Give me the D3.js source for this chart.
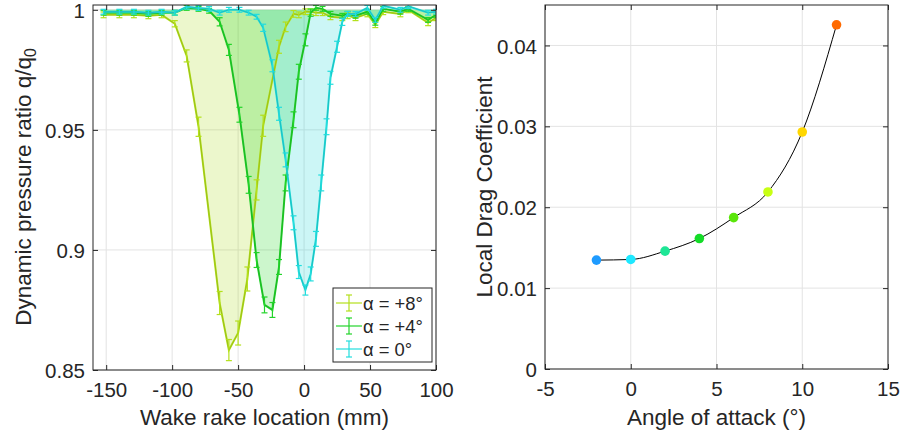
<!DOCTYPE html>
<html>
<head>
<meta charset="utf-8">
<script src="https://cdn.jsdelivr.net/npm/d3@7"></script>
<style>
  body { margin: 0; background: #fff; }
  svg text { font-family: "Liberation Sans", Arial, sans-serif; fill: #262626; }
</style>
</head>
<body>
<svg id="chart" width="901" height="438"></svg>
<script>
// wake rake survey, q/q0 for three angles of attack
const xPlus8 = [-152, -140, -129, -118, -108, -98, -89, -80, -64, -57, -50, -43, -36, -31, -19, -14, -8, -4, 1, 5, 9, 14, 20, 29, 33, 39, 48, 54, 60, 73, 79, 94, 100];
const qPlus8 = [0.9979, 0.9979, 0.9979, 0.9975, 0.9979, 0.9942, 0.9808, 0.9513, 0.8779, 0.8583, 0.8654, 0.8879, 0.9250, 0.9517, 0.9846, 0.9929, 0.9983, 0.9979, 0.9992, 0.9992, 0.9988, 0.9988, 0.9971, 0.9967, 0.9975, 0.9967, 0.9983, 0.9938, 0.9992, 0.9983, 1.0000, 0.9946, 0.9967];
const ePlus8 = [0.0012, 0.0012, 0.0012, 0.0012, 0.0012, 0.0013, 0.0025, 0.0040, 0.0048, 0.0044, 0.0050, 0.0050, 0.0042, 0.0044, 0.0027, 0.0020, 0.0014, 0.0012, 0.0012, 0.0012, 0.0012, 0.0012, 0.0012, 0.0012, 0.0012, 0.0012, 0.0012, 0.0012, 0.0012, 0.0012, 0.0012, 0.0012, 0.0012];

const xPlus4 = [-152, -140, -129, -118, -108, -98, -89, -80, -72, -64, -57, -49, -42, -36, -30, -24, -19, -14, -8, -4, 1, 5, 9, 14, 20, 29, 33, 39, 48, 54, 60, 73, 79, 94, 100];
const qPlus4 = [0.9988, 0.9988, 0.9988, 0.9983, 0.9988, 0.9988, 1.0008, 1.0004, 0.9996, 0.9950, 0.9833, 0.9563, 0.9271, 0.8958, 0.8771, 0.8750, 0.8929, 0.9279, 0.9542, 0.9742, 0.9875, 0.9988, 1.0008, 1.0004, 0.9983, 0.9975, 0.9983, 0.9975, 0.9992, 0.9946, 1.0004, 0.9992, 1.0004, 0.9958, 0.9979];
const ePlus4 = [0.0010, 0.0010, 0.0010, 0.0010, 0.0010, 0.0010, 0.0010, 0.0010, 0.0010, 0.0017, 0.0023, 0.0031, 0.0035, 0.0031, 0.0033, 0.0031, 0.0031, 0.0033, 0.0033, 0.0031, 0.0025, 0.0015, 0.0010, 0.0010, 0.0010, 0.0010, 0.0010, 0.0010, 0.0010, 0.0010, 0.0010, 0.0010, 0.0010, 0.0010, 0.0010];

const xZero = [-152, -140, -129, -118, -108, -98, -89, -80, -72, -64, -57, -49, -42, -36, -31, -24, -19, -14, -8, -4, 1, 5, 9, 13, 17, 20, 25, 29, 33, 39, 48, 54, 60, 73, 79, 94, 100];
const qZero = [0.9992, 0.9992, 0.9992, 0.9988, 0.9992, 0.9988, 1.0013, 1.0008, 1.0004, 0.9988, 1.0000, 1.0000, 0.9988, 0.9971, 0.9925, 0.9767, 0.9567, 0.9375, 0.9113, 0.8908, 0.8833, 0.8900, 0.9046, 0.9279, 0.9513, 0.9717, 0.9846, 0.9950, 0.9983, 0.9983, 1.0008, 0.9958, 1.0017, 1.0000, 1.0015, 0.9988, 0.9992];
const eZero = [0.0010, 0.0010, 0.0010, 0.0010, 0.0010, 0.0010, 0.0010, 0.0010, 0.0010, 0.0010, 0.0010, 0.0010, 0.0010, 0.0010, 0.0015, 0.0025, 0.0027, 0.0029, 0.0029, 0.0027, 0.0021, 0.0029, 0.0031, 0.0033, 0.0033, 0.0027, 0.0023, 0.0015, 0.0010, 0.0010, 0.0010, 0.0010, 0.0010, 0.0010, 0.0010, 0.0010, 0.0010];

const seriesNames = ["α = +8°", "α = +4°", "α = 0°"];
const seriesColors = ["#b4e01c", "#22d42a", "#22dede"];
const fillColors = ["rgb(160,215,0)", "rgb(0,210,0)", "rgb(0,210,210)"];

// local drag coefficient vs angle of attack
const aoa = [-2, 0, 2, 4, 6, 8, 10, 12];
const cd = [0.01346, 0.01354, 0.01457, 0.01613, 0.01872, 0.02189, 0.0293, 0.04255];
const aoaColors = ["#1e9bff", "#1ee8ff", "#1ee696", "#14dc28", "#5ae60a", "#c8ff14", "#ffd700", "#ff6a00"];

const wakeTicks = [-150, -100, -50, 0, 50, 100];
const qTicks = [0.85, 0.9, 0.95, 1];
const aoaTicks = [-5, 0, 5, 10, 15];
const cdTicks = [0, 0.01, 0.02, 0.03, 0.04];

const svg = d3.select("#chart");
const tickFont = 20.5;
const labelFont = 22.5;
// plain hyphen for negatives, like the original
const fmt = d => String(+d.toFixed(4));

function drawGrid(x, y, xt, yt) {
  const [l, r] = x.range();
  const [b, t] = y.range();
  const g = svg.append("g");
  g.append("g").selectAll("line").data(xt).join("line")
    .attr("x1", d => x(d)).attr("x2", d => x(d))
    .attr("y1", t).attr("y2", b)
    .attr("stroke", "#e3e3e3").attr("stroke-width", 1);
  g.append("g").selectAll("line").data(yt).join("line")
    .attr("x1", l).attr("x2", r)
    .attr("y1", d => y(d)).attr("y2", d => y(d))
    .attr("stroke", "#e3e3e3").attr("stroke-width", 1);
}

function drawAxes(x, y, xt, yt) {
  const [l, r] = x.range();
  const [b, t] = y.range();
  const style = sel => {
    sel.attr("font-size", tickFont).attr("font-family", null);
    sel.select(".domain").remove();
    sel.selectAll(".tick line").attr("stroke", "#262626");
  };
  svg.append("g").attr("transform", `translate(0,${b})`)
    .call(d3.axisBottom(x).tickValues(xt).tickSize(-5).tickPadding(12).tickFormat(fmt))
    .call(style);
  svg.append("g").attr("transform", `translate(0,${t})`)
    .call(d3.axisTop(x).tickValues(xt).tickSize(-5).tickFormat(""))
    .call(style);
  svg.append("g").attr("transform", `translate(${l},0)`)
    .call(d3.axisLeft(y).tickValues(yt).tickSize(-5).tickPadding(8).tickFormat(fmt))
    .call(style)
    .call(g => g.selectAll(".tick text").attr("dy", "0.37em"));
  svg.append("g").attr("transform", `translate(${r},0)`)
    .call(d3.axisRight(y).tickValues(yt).tickSize(-5).tickFormat(""))
    .call(style);
  svg.append("rect")
    .attr("x", l).attr("y", t).attr("width", r - l).attr("height", b - t)
    .attr("fill", "none").attr("stroke", "#262626").attr("stroke-width", 1);
}

// ---------- left panel ----------
const xW = d3.scaleLinear().domain([-160, 100]).range([93, 436]);
const yQ = d3.scaleLinear().domain([0.85, 1.002]).range([370, 5]);

drawGrid(xW, yQ, wakeTicks, qTicks);

svg.append("clipPath").attr("id", "clipL")
  .append("rect").attr("x", 93).attr("y", 5).attr("width", 343).attr("height", 365);

const wakeSeries = [
  {x: xPlus8, q: qPlus8, e: ePlus8},
  {x: xPlus4, q: qPlus4, e: ePlus4},
  {x: xZero, q: qZero, e: eZero}
].map((s, i) => ({
  name: seriesNames[i],
  color: seriesColors[i],
  fill: fillColors[i],
  pts: s.x.map((v, j) => ({x: v, q: s.q[j], e: s.e[j]}))
}));

const plotL = svg.append("g").attr("clip-path", "url(#clipL)");

const area = d3.area().x(d => xW(d.x)).y0(yQ(1)).y1(d => yQ(d.q));
const line = d3.line().x(d => xW(d.x)).y(d => yQ(d.q));

plotL.selectAll("path.fill").data(wakeSeries).join("path")
  .attr("class", "fill")
  .attr("d", d => area(d.pts))
  .attr("fill", d => d.fill)
  .attr("fill-opacity", 0.2);

wakeSeries.forEach(s => {
  const g = plotL.append("g");
  g.append("path").attr("d", line(s.pts))
    .attr("fill", "none").attr("stroke", s.color).attr("stroke-width", 2);
  g.append("path").attr("d", line(s.pts))
    .attr("fill", "none").attr("stroke", d3.color(s.color).darker(0.8)).attr("stroke-width", 0.8)
    .attr("stroke-opacity", 0.7);
  const bars = g.selectAll("g.bar").data(s.pts).join("g").attr("class", "bar")
    .attr("stroke", s.color).attr("stroke-width", 1.2);
  bars.append("line")
    .attr("x1", d => xW(d.x)).attr("x2", d => xW(d.x))
    .attr("y1", d => yQ(d.q - d.e)).attr("y2", d => yQ(d.q + d.e));
  bars.append("line")
    .attr("x1", d => xW(d.x) - 3).attr("x2", d => xW(d.x) + 3)
    .attr("y1", d => yQ(d.q - d.e)).attr("y2", d => yQ(d.q - d.e));
  bars.append("line")
    .attr("x1", d => xW(d.x) - 3).attr("x2", d => xW(d.x) + 3)
    .attr("y1", d => yQ(d.q + d.e)).attr("y2", d => yQ(d.q + d.e));
});

drawAxes(xW, yQ, wakeTicks, qTicks);

// legend
const leg = svg.append("g").attr("transform", "translate(333,288)");
leg.append("rect").attr("width", 99).attr("height", 74)
  .attr("fill", "#fff").attr("stroke", "#262626").attr("stroke-width", 1);
const rows = leg.selectAll("g.row").data(wakeSeries).join("g").attr("class", "row")
  .attr("transform", (d, i) => `translate(0,${15 + i * 23})`)
  .attr("stroke", d => d.color).attr("stroke-width", 1.2);
rows.append("line").attr("x1", 3).attr("x2", 29).attr("y1", 0).attr("y2", 0);
rows.append("line").attr("x1", 16).attr("x2", 16).attr("y1", -8).attr("y2", 8);
rows.append("line").attr("x1", 13).attr("x2", 19).attr("y1", -8).attr("y2", -8);
rows.append("line").attr("x1", 13).attr("x2", 19).attr("y1", 8).attr("y2", 8);
rows.append("text").attr("x", 30).attr("y", 6.5)
  .attr("stroke", "none").attr("font-size", 18.4)
  .text(d => d.name);

svg.append("text")
  .attr("x", xW(-30)).attr("y", 425)
  .attr("text-anchor", "middle").attr("font-size", labelFont)
  .text("Wake rake location (mm)");

const yl = svg.append("text")
  .attr("transform", "translate(31,187) rotate(-90)")
  .attr("text-anchor", "middle").attr("font-size", labelFont);
yl.append("tspan").text("Dynamic pressure ratio q/q");
yl.append("tspan").attr("font-size", labelFont * 0.7).attr("dy", 5).text("0");

// ---------- right panel ----------
const xA = d3.scaleLinear().domain([-5, 15]).range([545, 888]);
const yC = d3.scaleLinear().domain([0, 0.045]).range([369, 5]);

drawGrid(xA, yC, aoaTicks, cdTicks);

const cdPts = aoa.map((a, i) => ({a, c: cd[i], color: aoaColors[i]}));

svg.append("path")
  .attr("d", d3.line().x(d => xA(d.a)).y(d => yC(d.c)).curve(d3.curveMonotoneX)(cdPts))
  .attr("fill", "none").attr("stroke", "#000").attr("stroke-width", 1);

svg.selectAll("circle.pt").data(cdPts).join("circle")
  .attr("class", "pt")
  .attr("cx", d => xA(d.a)).attr("cy", d => yC(d.c))
  .attr("r", 4.8).attr("fill", d => d.color);

drawAxes(xA, yC, aoaTicks, cdTicks);

svg.append("text")
  .attr("x", xA(5)).attr("y", 425)
  .attr("text-anchor", "middle").attr("font-size", labelFont)
  .text("Angle of attack (°)");

svg.append("text")
  .attr("transform", "translate(492,187) rotate(-90)")
  .attr("text-anchor", "middle").attr("font-size", labelFont)
  .text("Local Drag Coefficient");
</script>
</body>
</html>
